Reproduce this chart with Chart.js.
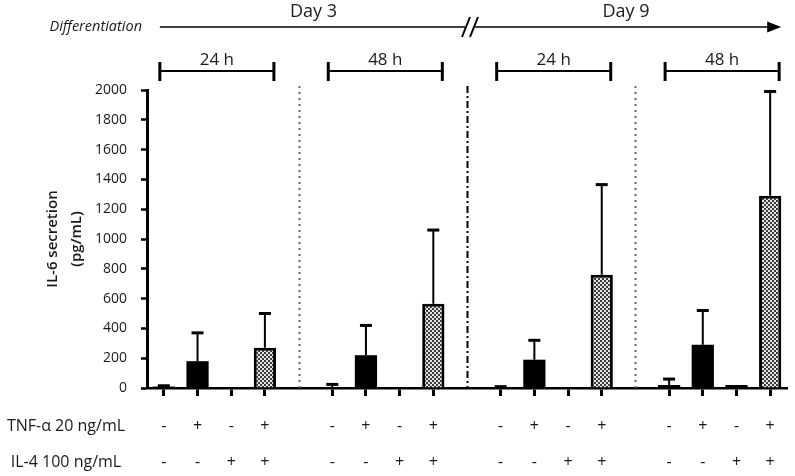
<!DOCTYPE html>
<html>
<head>
<meta charset="utf-8">
<script src="https://cdn.jsdelivr.net/npm/chart.js@4.4.1/dist/chart.umd.min.js"></script>
<style>
  html, body { margin: 0; padding: 0; background: #fff; }
</style>
</head>
<body>
<canvas id="c" width="795" height="476"></canvas>
<script>
// 19 slots: 4 groups of 4 bars, an empty slot between groups
const slotLabels = [
  'd3-24-a', 'd3-24-b', 'd3-24-c', 'd3-24-d', '',
  'd3-48-a', 'd3-48-b', 'd3-48-c', 'd3-48-d', '',
  'd9-24-a', 'd9-24-b', 'd9-24-c', 'd9-24-d', '',
  'd9-48-a', 'd9-48-b', 'd9-48-c', 'd9-48-d'
];
const il6Mean = [10, 180, 0, 270, null, 6, 220, 0, 565, null, 6, 190, 0, 760, null, 20, 290, 20, 1290];
const il6Sd   = [5, 190, 0, 230, null, 18, 200, 0, 495, null, 3, 130, 0, 605, null, 40, 230, 0, 700];
const tnfRow  = ['-', '+', '-', '+', '', '-', '+', '-', '+', '', '-', '+', '-', '+', '', '-', '+', '-', '+'];
const il4Row  = ['-', '-', '+', '+', '', '-', '-', '+', '+', '', '-', '-', '+', '+', '', '-', '-', '+', '+'];
const rowNames = ['TNF-α 20 ng/mL', 'IL-4 100 ng/mL'];
const groupStarts = [0, 5, 10, 15];
const groupLabels = ['24 h', '48 h', '24 h', '48 h'];
const gapSlots = [4, 9, 14];
const dayLabels = ['Day 3', 'Day 9'];
const yTicks = [0, 200, 400, 600, 800, 1000, 1200, 1400, 1600, 1800, 2000];

const FONT = '"Open Sans", "Liberation Sans", sans-serif';
const INK = '#1a1a1a';

const canvas = document.getElementById('c');
const ctx0 = canvas.getContext('2d');

function checker() {
  const p = document.createElement('canvas');
  p.width = p.height = 4;
  const g = p.getContext('2d');
  g.fillStyle = '#e6e6e6';
  g.fillRect(0, 0, 4, 4);
  g.fillStyle = '#3a3a3a';
  g.fillRect(0, 0, 2, 2);
  g.fillRect(2, 2, 2, 2);
  return ctx0.createPattern(p, 'repeat');
}
const hatch = checker();
const isCombo = i => tnfRow[i] === '+' && il4Row[i] === '+';

function line(ctx, x1, y1, x2, y2) {
  ctx.beginPath();
  ctx.moveTo(x1, y1);
  ctx.lineTo(x2, y2);
  ctx.stroke();
}

const errorBars = {
  id: 'errorBars',
  afterDatasetsDraw(chart) {
    const { ctx } = chart;
    const y = chart.scales.y;
    const meta = chart.getDatasetMeta(0);
    ctx.save();
    ctx.strokeStyle = '#000';
    meta.data.forEach((bar, i) => {
      const m = il6Mean[i], e = il6Sd[i];
      if (m === null || !e) return;
      const y0 = y.getPixelForValue(m);
      const y1 = y.getPixelForValue(m + e);
      ctx.lineWidth = 2;
      line(ctx, bar.x, y0, bar.x, y1);
      ctx.lineWidth = 3;
      line(ctx, bar.x - 6, y1, bar.x + 6, y1);
    });
    ctx.restore();
  }
};

const decorations = {
  id: 'decorations',
  afterDraw(chart) {
    const { ctx, chartArea } = chart;
    const x = chart.scales.x;
    ctx.save();

    // separators between groups
    gapSlots.forEach((s, k) => {
      const px = Math.round(x.getPixelForValue(s)) + 0.5;
      if (k === 1) {
        ctx.strokeStyle = '#000';
        ctx.lineWidth = 2;
        ctx.setLineDash([7, 3, 2, 3]);
      } else {
        ctx.strokeStyle = '#666';
        ctx.lineWidth = 2;
        ctx.setLineDash([2, 4]);
      }
      line(ctx, px, 86, px, chartArea.bottom);
    });
    ctx.setLineDash([]);

    // brackets for incubation time
    ctx.strokeStyle = '#000';
    ctx.fillStyle = INK;
    ctx.font = '17px ' + FONT;
    ctx.textAlign = 'center';
    ctx.textBaseline = 'middle';
    const brackets = groupStarts.map(g => [x.getPixelForValue(g) - 4, x.getPixelForValue(g + 3) + 9]);
    brackets.forEach(([a, b], k) => {
      ctx.lineWidth = 2;
      line(ctx, a, 71, b, 71);
      ctx.lineWidth = 3;
      line(ctx, a, 62, a, 81);
      line(ctx, b, 62, b, 81);
      ctx.fillText(groupLabels[k], (a + b) / 2, 60);
    });

    // differentiation time arrow
    const ax0 = brackets[0][0];
    const ax1 = brackets[3][1] + 2;
    const brk = x.getPixelForValue(gapSlots[1]);
    ctx.lineWidth = 1.5;
    line(ctx, ax0, 27, ax1 - 10, 27);
    ctx.beginPath();
    ctx.moveTo(ax1, 27);
    ctx.lineTo(ax1 - 14, 21.5);
    ctx.lineTo(ax1 - 14, 32.5);
    ctx.closePath();
    ctx.fillStyle = '#000';
    ctx.fill();
    ctx.fillStyle = '#fff';
    ctx.fillRect(brk - 2, 24, 10, 6);
    ctx.lineWidth = 2;
    line(ctx, brk - 5, 37, brk + 3, 17);
    line(ctx, brk + 3, 37, brk + 11, 17);

    ctx.fillStyle = INK;
    ctx.font = '18px ' + FONT;
    ctx.fillText(dayLabels[0], (ax0 + brk) / 2, 12);
    ctx.fillText(dayLabels[1], (brk + ax1) / 2 + 2, 12);
    ctx.font = 'italic 14.5px ' + FONT;
    ctx.textAlign = 'right';
    ctx.fillText('Differentiation', 142, 27);

    // y title
    ctx.font = '600 15px ' + FONT;
    ctx.textAlign = 'center';
    const cy = (chartArea.top + chartArea.bottom) / 2;
    ctx.save();
    ctx.translate(53, cy);
    ctx.rotate(-Math.PI / 2);
    ctx.fillText('IL-6 secretion', 0, 0);
    ctx.restore();
    ctx.save();
    ctx.translate(77, cy);
    ctx.rotate(-Math.PI / 2);
    ctx.fillText('(pg/mL)', 0, 0);
    ctx.restore();

    // treatment table
    ctx.font = '16px ' + FONT;
    const rows = [tnfRow, il4Row];
    const rowY = [426, 462];
    rows.forEach((row, r) => {
      ctx.textAlign = 'center';
      ctx.fillText(rowNames[r], 66, rowY[r]);
      row.forEach((sign, i) => {
        if (sign) ctx.fillText(sign, x.getPixelForValue(i), rowY[r]);
      });
    });
    ctx.restore();
  }
};

new Chart(canvas, {
  type: 'bar',
  data: {
    labels: slotLabels,
    datasets: [{
      data: il6Mean,
      backgroundColor: c => isCombo(c.dataIndex) ? hatch : '#000',
      borderColor: '#000',
      borderWidth: c => isCombo(c.dataIndex) ? 3 : 0,
      barPercentage: 0.66,
      categoryPercentage: 1
    }]
  },
  options: {
    responsive: false,
    animation: false,
    devicePixelRatio: 1,
    layout: { padding: { top: 90, right: 8, left: 0, bottom: 0 } },
    plugins: { legend: { display: false }, tooltip: { enabled: false } },
    scales: {
      x: {
        offset: true,
        ticks: { display: false, autoSkip: false },
        grid: {
          offset: false,
          drawOnChartArea: false,
          tickLength: 8,
          tickWidth: 3,
          tickColor: c => gapSlots.includes(c.index) ? 'rgba(0,0,0,0)' : '#000'
        },
        border: { color: '#000', width: 2.5 },
        afterFit: s => { s.height = 88; }
      },
      y: {
        min: 0,
        max: 2000,
        afterBuildTicks: s => { s.ticks = yTicks.map(v => ({ value: v })); },
        ticks: {
          color: INK,
          font: { family: FONT, size: 14 },
          padding: 14,
          callback: v => String(v)
        },
        grid: { drawOnChartArea: false, tickLength: 6, tickWidth: 2.5, tickColor: '#000' },
        border: { color: '#000', width: 3 },
        afterFit: s => { s.width = 147; }
      }
    }
  },
  plugins: [errorBars, decorations]
});
</script>
</body>
</html>
